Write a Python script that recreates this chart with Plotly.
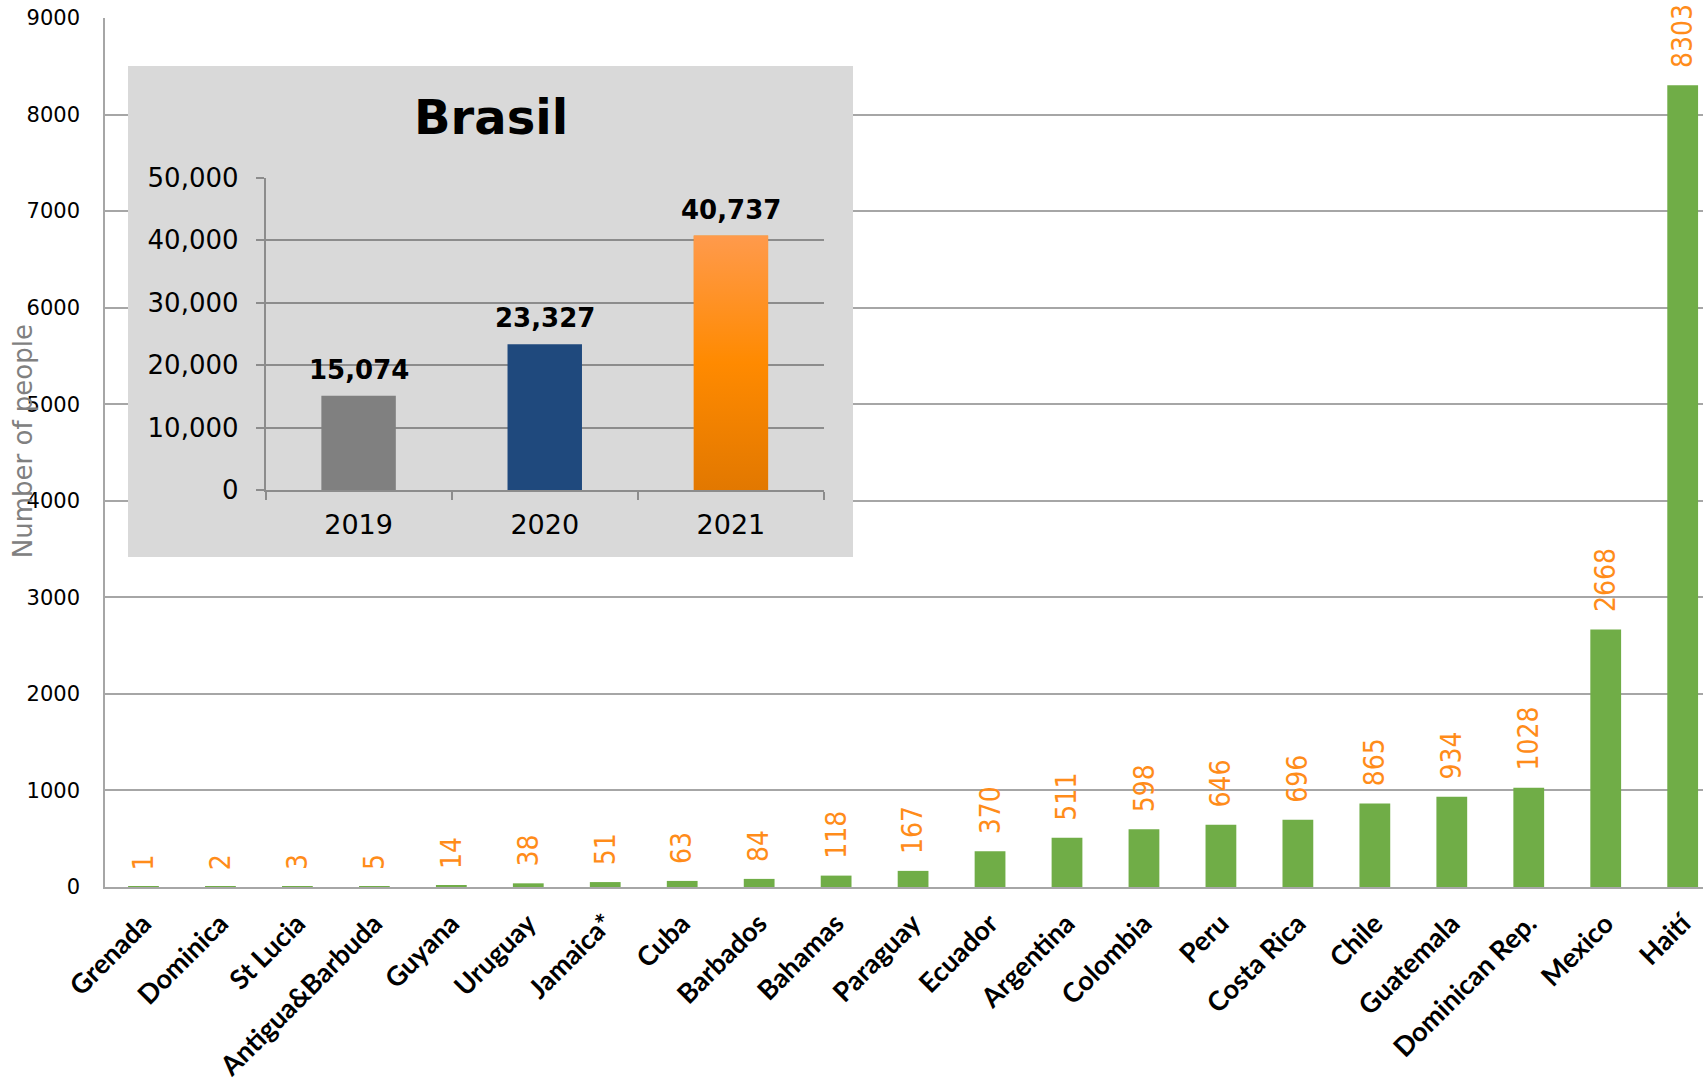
import base64
import plotly.graph_objects as go

# Main series: people by country
countries = ["Grenada", "Dominica", "St Lucia", "Antigua&Barbuda", "Guyana", "Uruguay",
             "Jamaica*", "Cuba", "Barbados", "Bahamas", "Paraguay", "Ecuador", "Argentina",
             "Colombia", "Peru", "Costa Rica", "Chile", "Guatemala", "Dominican Rep.",
             "Mexico", "Haití"]
people = [1, 2, 3, 5, 14, 38, 51, 63, 84, 118, 167, 370, 511, 598, 646, 696, 865, 934,
          1028, 2668, 8303]
y_ticks = list(range(0, 9001, 1000))

# Inset series: Brasil by year
brasil_years = ["2019", "2020", "2021"]
brasil_people = [15074, 23327, 40737]
brasil_colors = ["#808080", "#1F497D", "#FB8A12"]
brasil_ticks = list(range(0, 50001, 10000))

GREEN = "#70AD47"
ORANGE = "#FF8C1A"
GRID = "#A6A6A6"
VERDANA = "Verdana, DejaVu Sans, sans-serif"
BAR_W = 0.4

fig = go.Figure()

# main bars
fig.add_trace(go.Bar(x=countries, y=people, marker=dict(color=GREEN, line=dict(width=0)),
                     width=BAR_W, xaxis="x", yaxis="y", hoverinfo="x+y"))

# grey panel behind the inset
fig.add_trace(go.Scatter(x=[0, 1, 1, 0, 0], y=[0, 0, 1, 1, 0], mode="lines", fill="toself",
                         fillcolor="#D9D9D9", line=dict(width=0), hoverinfo="skip",
                         xaxis="x2", yaxis="y2"))

# inset bars
fig.add_trace(go.Bar(x=brasil_years, y=brasil_people, width=BAR_W,
                     marker=dict(color=brasil_colors, line=dict(width=0)),
                     xaxis="x3", yaxis="y3"))

# vertical orange gradient laid over the 2021 bar
grad_svg = (
    '<svg xmlns="http://www.w3.org/2000/svg" width="10" height="100" preserveAspectRatio="none">'
    '<defs><linearGradient id="g" x1="0" y1="0" x2="0" y2="1">'
    '<stop offset="0" stop-color="#FF9A4C"/><stop offset="0.5" stop-color="#FF8A00"/>'
    '<stop offset="1" stop-color="#E27800"/></linearGradient></defs>'
    '<rect width="10" height="100" fill="url(#g)"/></svg>'
)
grad_uri = "data:image/svg+xml;base64," + base64.b64encode(grad_svg.encode()).decode()
last = len(brasil_people) - 1
fig.add_layout_image(dict(source=grad_uri, xref="x3", yref="y3",
                          x=last - BAR_W / 2, y=brasil_people[last],
                          sizex=BAR_W, sizey=brasil_people[last],
                          sizing="stretch", xanchor="left", yanchor="top", layer="above"))

annotations = []
for c, v in zip(countries, people):
    annotations.append(dict(x=c, y=v, xref="x", yref="y", text=str(v), showarrow=False,
                            textangle=-90, yanchor="bottom", xanchor="center", yshift=15,
                            font=dict(family="Liberation Sans Narrow, Arial Narrow, DejaVu Sans Condensed, sans-serif",
                                      size=28, color=ORANGE)))
# year names look numeric, so place these labels by category index
for i, v in enumerate(brasil_people):
    annotations.append(dict(x=i, y=v, xref="x3", yref="y3", text=f"{v:,}", showarrow=False,
                            yanchor="bottom", xanchor="center", yshift=9,
                            font=dict(family=VERDANA, size=26, color="black", weight="bold")))

annotations.append(dict(x=0.2416, y=0.886, xref="paper", yref="paper", text="Brasil",
                        showarrow=False, xanchor="center", yanchor="middle",
                        font=dict(family=VERDANA, size=48, color="black", weight="bold")))
annotations.append(dict(x=-0.0513, y=0.513, xref="paper", yref="paper", text="Number of people",
                        showarrow=False, textangle=-90, xanchor="center", yanchor="middle",
                        font=dict(family=VERDANA, size=26, color="#808080")))

fig.update_layout(
    width=1703, height=1081,
    margin=dict(l=105, r=0, t=18, b=194),
    paper_bgcolor="white", plot_bgcolor="rgba(0,0,0,0)",
    showlegend=False,
    annotations=annotations,
    xaxis=dict(domain=[0, 1], anchor="y", type="category", range=[-0.5, 20.264],
               showline=True, linecolor=GRID, linewidth=2, showgrid=False, ticks="",
               tickangle=-45, ticklabelstandoff=8,
               tickfont=dict(family="Lato, Open Sans, sans-serif", size=27, color="black",
                             weight="bold")),
    yaxis=dict(domain=[0, 1], anchor="x", range=[0, 9000], tickvals=y_ticks,
               showgrid=True, gridcolor=GRID, gridwidth=1.5, zeroline=False,
               showline=True, linecolor=GRID, linewidth=1.5, ticks="",
               ticklabelstandoff=19,
               tickfont=dict(family=VERDANA, size=21, color="black")),
    xaxis2=dict(domain=[0.01439, 0.46809], anchor="y2", range=[0, 1], visible=False),
    yaxis2=dict(domain=[0.37975, 0.94476], anchor="x2", range=[0, 1], visible=False),
    xaxis3=dict(domain=[0.10044, 0.44994], anchor="y3", type="category",
                range=[-0.5, 2.5],
                showline=True, linecolor="#8C8C8C", linewidth=1.5, showgrid=False,
                ticks="outside", tickson="boundaries", ticklen=8, tickcolor="#8C8C8C",
                tickwidth=1.5, ticklabelstandoff=10, tickangle=0,
                tickfont=dict(family=VERDANA, size=27, color="black")),
    yaxis3=dict(domain=[0.45685, 0.81622], anchor="x3", range=[0, 50000],
                tickvals=brasil_ticks, tickformat=",", showgrid=True, gridcolor="#8C8C8C",
                gridwidth=1.5, zeroline=False, showline=True, linecolor="#8C8C8C",
                linewidth=1.5, ticks="outside", ticklen=8, tickcolor="#8C8C8C",
                tickwidth=1.5, ticklabelstandoff=12,
                tickfont=dict(family=VERDANA, size=26, color="black")),
)

fig.write_html("out.html")
